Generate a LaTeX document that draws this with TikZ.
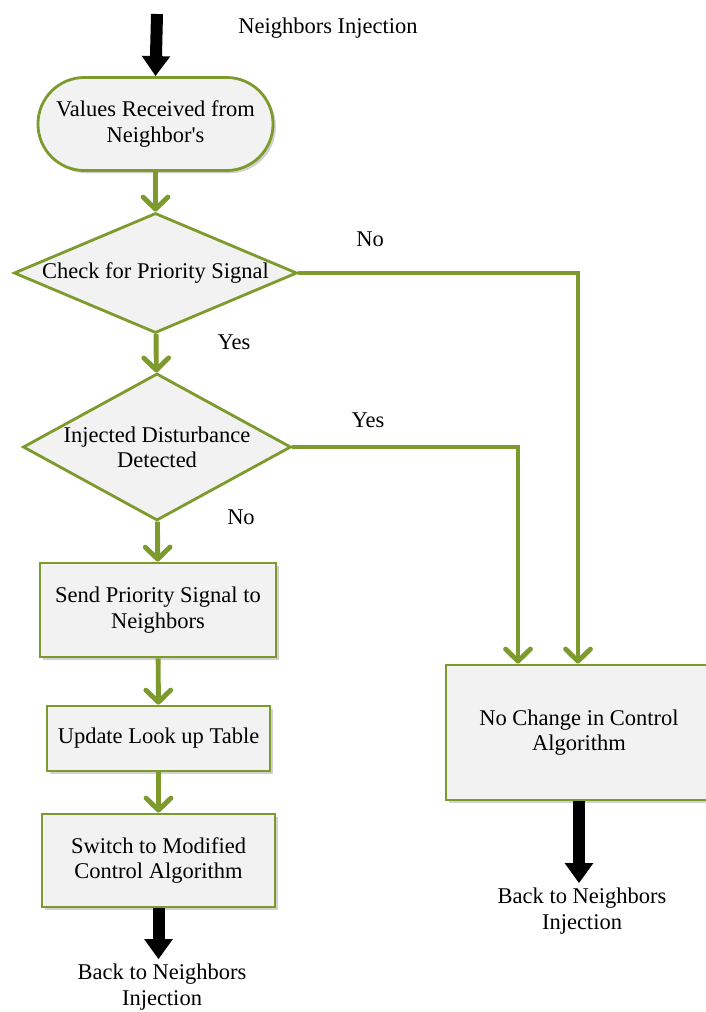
\documentclass[tikz,border=0pt]{standalone}
\usepackage{fontspec}
\setmainfont{Liberation Serif}
\usetikzlibrary{arrows.meta,positioning,shapes.geometric,calc,shadows}
\definecolor{OliveLine}{RGB}{125,155,45}
\definecolor{SoftGray}{RGB}{242,242,242}
\tikzset{
  txt/.style={font=\fontsize{16}{18}\selectfont,align=center},
  softshadow/.style={drop shadow={shadow xshift=0.07cm,shadow yshift=-0.07cm,
    fill=black,opacity=0.18}},
  terminal/.style={txt,draw=OliveLine,fill=SoftGray,line width=2pt,softshadow,
    rounded corners=1.16cm,minimum width=5.875cm,minimum height=2.325cm},
  decision/.style={diamond,draw=OliveLine,fill=SoftGray,line width=2pt,
    inner sep=0pt},
  process/.style={txt,draw=OliveLine,fill=SoftGray,line width=2pt,softshadow},
  flow/.style={draw=OliveLine,line width=3.5pt,
    -{Straight Barb[length=0.3cm,width=0.62cm,round]}},
  jump/.style={line width=0.3cm,-{Triangle[length=0.5cm,width=0.68cm]}}
}

\begin{document}
\begin{tikzpicture}[x=0.025cm,y=-0.025cm]
  \useasboundingbox (0,0) rectangle (705,1012);

  \node[txt] (start) at (328,28) {Neighbors Injection};
  \coordinate (entry) at (157,14);

  \node[terminal] (recv) at (155.5,124) {Values Received from\\Neighbor\textquotesingle s};
  \node[decision,minimum width=7.075cm,minimum height=3cm,
        label={[txt]center:Check for Priority Signal}] (chk) at (155.5,273) {};
  \node[decision,minimum width=6.7cm,minimum height=3.675cm,
        label={[txt]center:Injected Disturbance\\Detected}] (dist) at (157,447) {};
  \node[process,minimum width=5.9cm,minimum height=2.35cm] (send) at (158,610)
    {Send Priority Signal to\\Neighbors};
  \node[process,minimum width=5.575cm,minimum height=1.625cm] (upd) at (158.5,738.5)
    {Update Look up Table};
  \node[process,minimum width=5.825cm,minimum height=2.325cm] (sw) at (158.5,860.5)
    {Switch to Modified\\Control Algorithm};
  \node[process,minimum width=6.65cm,minimum height=3.375cm] (nochg) at (579,732.5)
    {No Change in Control\\Algorithm};

  \node[txt] (back1) at (162,987) {Back to Neighbors\\Injection};
  \node[txt] (back2) at (582,911) {Back to Neighbors\\Injection};

  \node[txt] (lno1) at (370,239) {No};
  \node[txt] (lyes1) at (234,342) {Yes};
  \node[txt] (lyes2) at (368,420) {Yes};
  \node[txt] (lno2) at (241,517) {No};

  \draw[jump] (entry) -- (recv.north);
  \draw[flow] (recv) -- (chk);
  \draw[flow] (chk) -- (dist);
  \draw[flow] (dist) -- (send);
  \draw[flow] (send) -- (upd);
  \draw[flow] (upd) -- (sw);
  \draw[flow] (chk.east) -| ($(nochg.north)+(-1,0)$);
  \draw[flow] (dist.east) -| ($(nochg.north)+(-61,0)$);
  \draw[jump] (sw.south) -- (sw.south |- back1.north);
  \draw[jump] (nochg.south) -- (nochg.south |- back2.north);
\end{tikzpicture}
\end{document}
